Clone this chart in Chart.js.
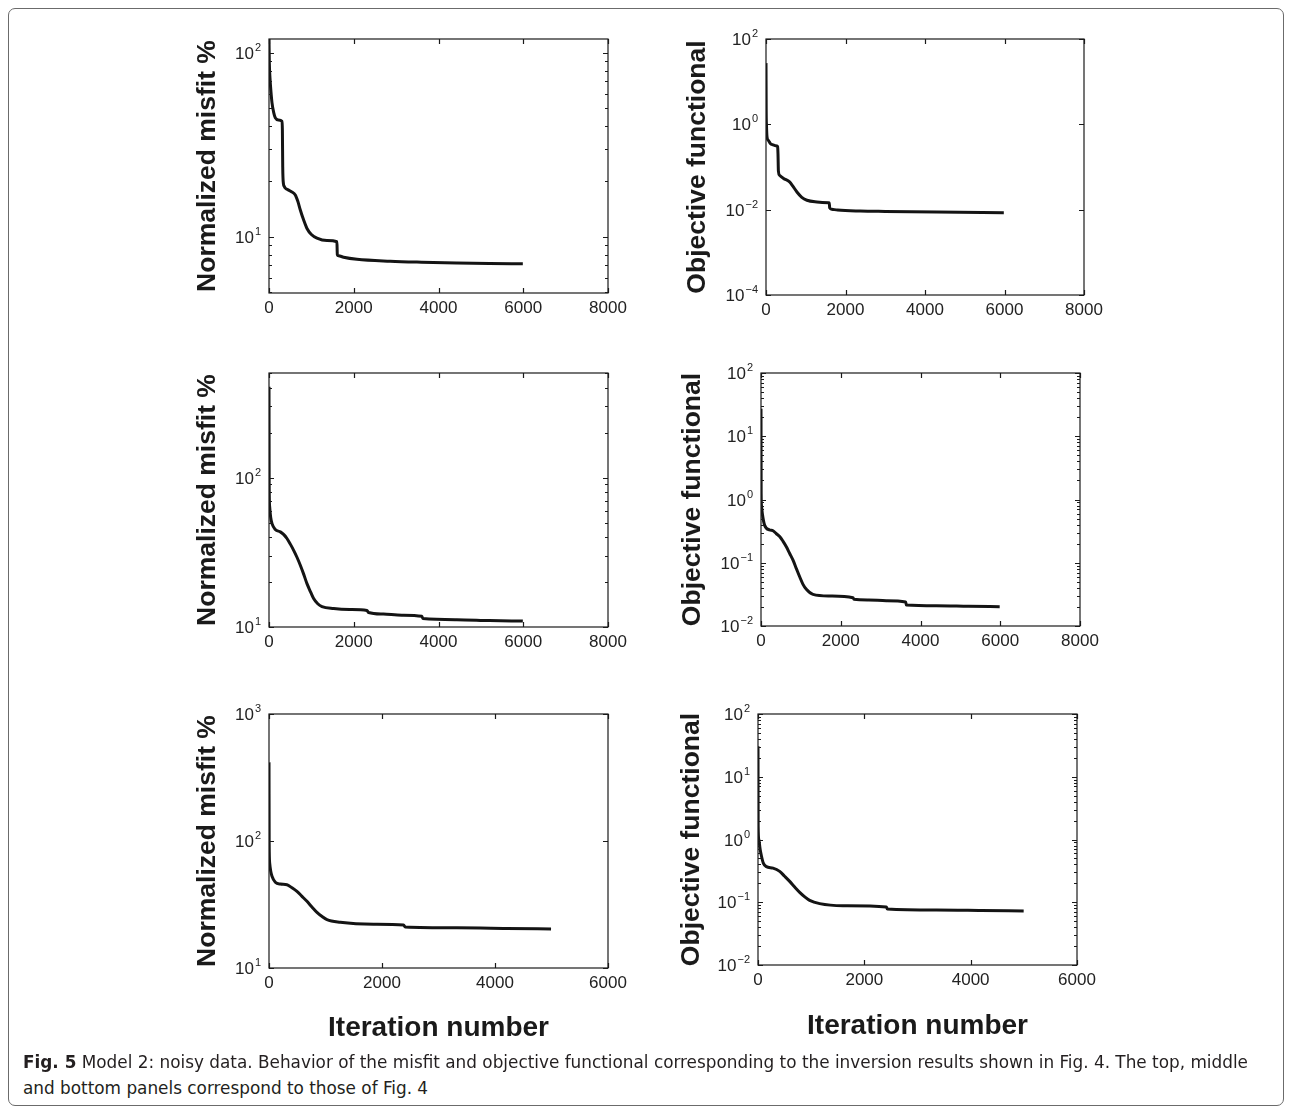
<!DOCTYPE html>
<html>
<head>
<meta charset="utf-8">
<script src="https://cdn.jsdelivr.net/npm/chart.js@4.4.1/dist/chart.umd.min.js"></script>
<style>
  body { margin: 0; background: #fff; width: 1291px; height: 1113px; position: relative; overflow: hidden; }
  .frame { position: absolute; left: 8px; top: 8px; width: 1276px; height: 1098px; border: 1px solid #6b6b6b; border-radius: 7px; box-sizing: border-box; }
  canvas { position: absolute; }
  .cap { position: absolute; left: 23px; white-space: nowrap; font-family: "Liberation Sans Narrow", "DejaVu Sans Condensed", "Liberation Sans", sans-serif; font-size: 17px; line-height: 20px; color: #231f20; transform-origin: 0 0; }
</style>
</head>
<body>
<div class="frame"></div>
<canvas id="c1"></canvas>
<canvas id="c2"></canvas>
<canvas id="c3"></canvas>
<canvas id="c4"></canvas>
<canvas id="c5"></canvas>
<canvas id="c6"></canvas>
<div class="cap" id="cap1" style="top:1052px"><b>Fig. 5</b> Model 2: noisy data. Behavior of the misfit and objective functional corresponding to the inversion results shown in Fig. 4. The top, middle</div>
<div class="cap" id="cap2" style="top:1078px">and bottom panels correspond to those of Fig. 4</div>
<script>
// Tick labels
const iterTicks8000 = [0, 2000, 4000, 6000, 8000];
const iterTicks6000 = [0, 2000, 4000, 6000];
const misfitTopDecades = [10, 100];
const objTopDecades = [1e-4, 1e-2, 1, 100];
const misfitMidDecades = [10, 100];
const objMidDecades = [0.01, 0.1, 1, 10, 100];
const misfitBotDecades = [10, 100, 1000];
const objBotDecades = [0.01, 0.1, 1, 10, 100];

// Top row
const topMisfitIter = [0, 8, 25, 45, 71, 110, 149, 220, 306, 316, 324, 340, 360, 385, 450, 530, 621, 680, 739, 820, 896, 1000, 1132, 1367, 1603, 1612, 1640, 1760, 2075, 2861, 3600, 4432, 5200, 5990];
const topMisfitVal  = [119, 88, 72, 62, 53.5, 47.5, 44.3, 43.2, 42.5, 38, 24, 19.5, 18.8, 18.4, 18, 17.6, 16.9, 15.6, 14.0, 12.3, 11.1, 10.3, 9.84, 9.55, 9.4, 8.0, 7.9, 7.75, 7.55, 7.37, 7.28, 7.21, 7.16, 7.13];
const topObjIter = [0, 5, 12, 25, 60, 108, 180, 276, 292, 302, 312, 341, 442, 593, 680, 778, 900, 1030, 1281, 1572, 1592, 1602, 1657, 1800, 2368, 3000, 4293, 5983];
const topObjVal  = [27.2, 2.0, 0.96, 0.51, 0.42, 0.357, 0.33, 0.31, 0.30, 0.2, 0.08, 0.064, 0.054, 0.0447, 0.035, 0.026, 0.0195, 0.0166, 0.0151, 0.0146, 0.0145, 0.011, 0.0102, 0.0098, 0.0093, 0.0091, 0.0088, 0.0085];

// Middle row
const midMisfitIter = [0, 4, 16, 40, 71, 149, 267, 350, 424, 500, 582, 660, 739, 820, 896, 980, 1053, 1150, 1250, 1525, 1900, 2311, 2350, 2700, 3136, 3607, 3631, 4432, 5200, 5990];
const midMisfitVal  = [405, 91, 63.6, 54, 49.2, 44.9, 43.3, 41.5, 39.1, 36, 32.6, 29.3, 25.9, 22.5, 19.5, 17.2, 15.5, 14.3, 13.7, 13.3, 13.1, 12.9, 12.5, 12.2, 12.0, 11.8, 11.4, 11.2, 11.05, 10.96];
const midObjIter = [0, 4, 12, 33, 92, 217, 301, 380, 468, 550, 635, 720, 803, 890, 970, 1050, 1137, 1304, 1722, 2307, 2332, 2700, 3143, 3628, 3645, 4397, 5200, 5986];
const midObjVal  = [27.3, 1.24, 0.8, 0.60, 0.39, 0.33, 0.32, 0.29, 0.26, 0.22, 0.179, 0.14, 0.110, 0.08, 0.060, 0.046, 0.038, 0.0316, 0.0298, 0.028, 0.0264, 0.0258, 0.0251, 0.0240, 0.0215, 0.0209, 0.0205, 0.0202];

// Bottom row
const botMisfitIter = [0, 3, 12, 30, 53, 112, 200, 318, 400, 495, 580, 672, 760, 849, 940, 1026, 1261, 1851, 2381, 2411, 3324, 4200, 4992];
const botMisfitVal  = [416, 96, 67, 58, 52.7, 47.3, 45.8, 45.3, 43, 40.1, 36.8, 33.5, 30.2, 27.4, 25.4, 24.0, 22.9, 22.1, 21.8, 21.0, 20.7, 20.5, 20.3];
const botObjIter = [0, 3, 15, 40, 64, 100, 157, 282, 408, 500, 596, 690, 784, 880, 972, 1160, 1599, 2414, 2433, 3354, 4200, 4997];
const botObjVal  = [30.5, 1.62, 1.0, 0.7, 0.55, 0.42, 0.37, 0.35, 0.31, 0.26, 0.215, 0.175, 0.144, 0.122, 0.107, 0.095, 0.088, 0.084, 0.078, 0.0753, 0.074, 0.0726];

const FAM = '"Liberation Sans", Arial, Helvetica, sans-serif';
const MISFIT = 'Normalized misfit %';
const OBJ = 'Objective functional';
Chart.defaults.font.family = FAM;

// panel layout: plot rect [left, top, right, bottom] in page pixels
const panels = [
  { id: 'c1', rect: [269, 39, 608, 293], xs: topMisfitIter, ys: topMisfitVal, xTicks: iterTicks8000, yMin: 4.95, yMax: 119, yMajor: misfitTopDecades, minor: true, yTitle: MISFIT, titleX: 207.5 },
  { id: 'c2', rect: [766, 39, 1084, 295], xs: topObjIter, ys: topObjVal, xTicks: iterTicks8000, yMin: 1e-4, yMax: 100, yMajor: objTopDecades, minor: false, yTitle: OBJ, titleX: 698 },
  { id: 'c3', rect: [269, 373, 608, 627], xs: midMisfitIter, ys: midMisfitVal, xTicks: iterTicks8000, yMin: 10, yMax: 501, yMajor: misfitMidDecades, minor: true, yTitle: MISFIT, titleX: 207.5 },
  { id: 'c4', rect: [761, 373, 1080, 626], xs: midObjIter, ys: midObjVal, xTicks: iterTicks8000, yMin: 0.01, yMax: 100, yMajor: objMidDecades, minor: true, yTitle: OBJ, titleX: 693 },
  { id: 'c5', rect: [269, 714, 608, 968], xs: botMisfitIter, ys: botMisfitVal, xTicks: iterTicks6000, yMin: 10, yMax: 1000, yMajor: misfitBotDecades, minor: false, yTitle: MISFIT, titleX: 207.5, xTitleY: 1028 },
  { id: 'c6', rect: [758, 714, 1077, 965], xs: botObjIter, ys: botObjVal, xTicks: iterTicks6000, yMin: 0.01, yMax: 100, yMajor: objBotDecades, minor: true, yTitle: OBJ, titleX: 692, xTitleY: 1026 }
];

function logMinors(min, max) {
  const out = [];
  for (let e = Math.floor(Math.log10(min)); e <= Math.ceil(Math.log10(max)); e++) {
    for (let k = 2; k <= 9; k++) {
      const v = k * Math.pow(10, e);
      if (v > min * 1.0001 && v < max * 0.9999) out.push(v);
    }
  }
  return out;
}

// Box, inward ticks and 10^n labels, MATLAB style
function axesPlugin(p) {
  return {
    id: 'axes_' + p.id,
    afterDraw(chart) {
      const { ctx, chartArea: a, scales: { x, y } } = chart;
      ctx.save();
      ctx.strokeStyle = '#1a1a1a';
      ctx.lineWidth = 1.2;
      ctx.strokeRect(a.left, a.top, a.right - a.left, a.bottom - a.top);
      ctx.beginPath();
      p.xTicks.forEach(v => {
        const px = Math.round(x.getPixelForValue(v)) + 0.5;
        ctx.moveTo(px, a.bottom); ctx.lineTo(px, a.bottom - 5);
        ctx.moveTo(px, a.top); ctx.lineTo(px, a.top + 5);
      });
      p.yMajor.forEach(v => {
        const py = Math.round(y.getPixelForValue(v)) + 0.5;
        ctx.moveTo(a.left, py); ctx.lineTo(a.left + 5, py);
        ctx.moveTo(a.right, py); ctx.lineTo(a.right - 5, py);
      });
      if (p.minor) {
        logMinors(p.yMin, p.yMax).forEach(v => {
          const py = Math.round(y.getPixelForValue(v)) + 0.5;
          ctx.moveTo(a.left, py); ctx.lineTo(a.left + 3, py);
          ctx.moveTo(a.right, py); ctx.lineTo(a.right - 3, py);
        });
      }
      ctx.stroke();

      ctx.fillStyle = '#222';
      ctx.textAlign = 'right';
      ctx.textBaseline = 'alphabetic';
      p.yMajor.forEach(v => {
        const py = y.getPixelForValue(v);
        const e = String(Math.round(Math.log10(v))).replace('-', '\u2212');
        ctx.font = '11px ' + FAM;
        const we = ctx.measureText(e).width;
        const xr = a.left - 8;
        ctx.fillText(e, xr, py - 2);
        ctx.font = '17px ' + FAM;
        ctx.fillText('10', xr - we - 1, py + 6);
      });
      ctx.restore();
    }
  };
}

function makePanel(p) {
  const [L, T, R, B] = p.rect;
  const padL = 100, padT = 15, padR = 25;
  const xH = p.xTitleY ? 92 : 40;
  const W = (R - L) + padL + padR;
  const H = (B - T) + padT + xH;
  const cv = document.getElementById(p.id);
  cv.width = W; cv.height = H;
  cv.style.width = W + 'px'; cv.style.height = H + 'px';
  cv.style.left = (L - padL) + 'px'; cv.style.top = (T - padT) + 'px';

  const yTitleFont = { family: FAM, size: 26.5, weight: 'bold' };
  const xTitleFont = { family: FAM, size: 28, weight: 'bold' };
  const yTitlePad = p.titleX - (L - padL) - 26.5 * 1.2 / 2;
  const xTitlePad = p.xTitleY ? (T - padT + H) - p.xTitleY - 28 * 1.2 / 2 : 0;

  new Chart(cv, {
    type: 'line',
    data: {
      datasets: [{
        data: p.xs.map((x, i) => ({ x: x, y: p.ys[i] })),
        borderColor: '#141414',
        borderWidth: 3,
        pointRadius: 0,
        cubicInterpolationMode: 'monotone',
        fill: false
      }]
    },
    options: {
      responsive: false,
      animation: false,
      devicePixelRatio: 1,
      layout: { padding: { left: 0, top: padT, right: padR, bottom: 0 } },
      plugins: { legend: { display: false }, tooltip: { enabled: false } },
      scales: {
        x: {
          type: 'linear',
          min: 0,
          max: p.xTicks[p.xTicks.length - 1],
          afterBuildTicks: s => { s.ticks = p.xTicks.map(v => ({ value: v })); },
          afterFit: s => { s.height = xH; },
          grid: { display: false, drawTicks: false },
          border: { display: false },
          ticks: { color: '#222', font: { family: FAM, size: 17 }, padding: 5, maxRotation: 0, autoSkip: false, callback: v => String(v) },
          title: p.xTitleY
            ? { display: true, text: 'Iteration number', color: '#1a1a1a', font: xTitleFont, padding: { top: 0, bottom: xTitlePad } }
            : { display: false }
        },
        y: {
          type: 'logarithmic',
          min: p.yMin,
          max: p.yMax,
          afterBuildTicks: s => { s.ticks = p.yMajor.map(v => ({ value: v })); },
          afterFit: s => { s.width = padL; },
          grid: { display: false, drawTicks: false },
          border: { display: false },
          ticks: { display: false },
          title: { display: true, text: p.yTitle, color: '#1a1a1a', font: yTitleFont, padding: { top: yTitlePad, bottom: 0 } }
        }
      }
    },
    plugins: [axesPlugin(p)]
  });
}

panels.forEach(makePanel);

// stretch the caption to the printed line width
const cap1 = document.getElementById('cap1');
const cap2 = document.getElementById('cap2');
const k = 1225 / cap1.getBoundingClientRect().width;
cap1.style.transform = 'scaleX(' + k + ')';
cap2.style.transform = 'scaleX(' + k + ')';
</script>
</body>
</html>
